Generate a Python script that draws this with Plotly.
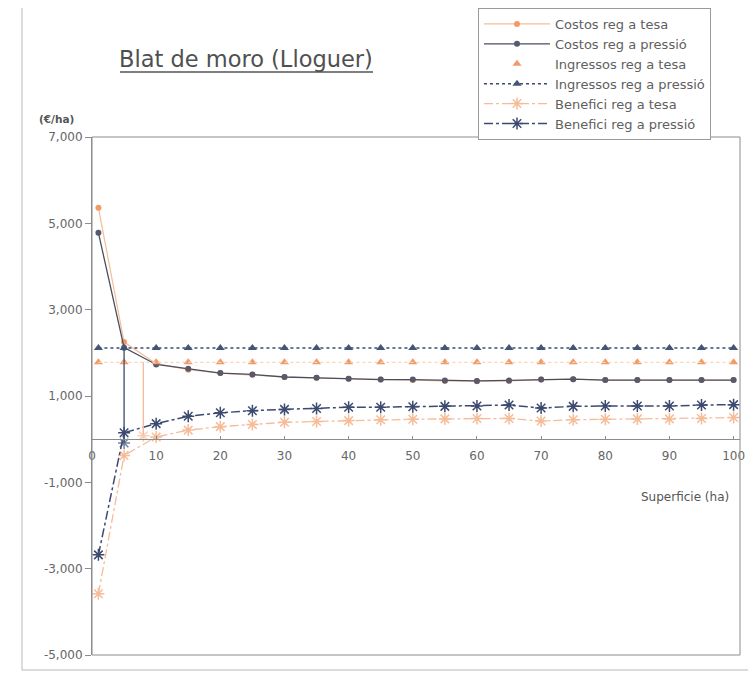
import plotly.graph_objects as go

# ---- data ----
x_vals = [1, 5, 10, 15, 20, 25, 30, 35, 40, 45, 50, 55, 60, 65, 70, 75, 80, 85, 90, 95, 100]
costos_tesa = [5360, 2250, 1750, 1610, 1530, 1490, 1440, 1420, 1400, 1380, 1370, 1350, 1340, 1350, 1380, 1390, 1370, 1370, 1370, 1370, 1370]
costos_pressio = [4780, 2120, 1730, 1630, 1530, 1500, 1440, 1420, 1400, 1380, 1380, 1360, 1350, 1360, 1380, 1390, 1370, 1370, 1370, 1370, 1370]
ingressos_tesa = [1780, 1780, 1780, 1780, 1780, 1780, 1780, 1780, 1780, 1780, 1780, 1780, 1780, 1780, 1780, 1780, 1780, 1780, 1780, 1780, 1780]
ingressos_pressio = [2110, 2110, 2110, 2110, 2110, 2110, 2110, 2110, 2110, 2110, 2110, 2110, 2110, 2110, 2110, 2110, 2110, 2110, 2110, 2110, 2110]
benefici_tesa = [-3580, -380, 50, 210, 290, 340, 390, 410, 430, 450, 460, 470, 480, 480, 420, 450, 460, 470, 470, 480, 500]
benefici_pressio = [-2680, 150, 360, 530, 610, 660, 690, 710, 740, 740, 750, 760, 770, 790, 720, 760, 770, 770, 770, 790, 800]

# break-even drop lines (x, top value, bottom value)
equilibri_pressio = {"x": [5, 5], "y": [2110, -90]}
equilibri_tesa = {"x": [8, 8], "y": [1780, 80]}

x_ticks = [0, 10, 20, 30, 40, 50, 60, 70, 80, 90, 100]
y_ticks = [7000, 5000, 3000, 1000, -1000, -3000, -5000]
y_ticklabels = ["7,000", "5,000", "3,000", "1,000", "-1,000", "-3,000", "-5,000"]

ORANGE = "#F29A68"
ORANGE_L = "#F6BC98"
NAVY = "#3C4A70"
DARK = "#4A4F60"
FONT = "DejaVu Sans, Verdana, sans-serif"

fig = go.Figure()

fig.add_trace(go.Scatter(x=x_vals, y=costos_tesa, name="Costos reg a tesa", mode="lines+markers",
                         line=dict(color=ORANGE_L, width=1.2),
                         marker=dict(symbol="circle", size=6, color=ORANGE)))
fig.add_trace(go.Scatter(x=x_vals, y=costos_pressio, name="Costos reg a pressió", mode="lines+markers",
                         line=dict(color=DARK, width=1.3),
                         marker=dict(symbol="circle", size=6, color="#555A6E")))
fig.add_trace(go.Scatter(x=x_vals, y=ingressos_tesa, name="Ingressos reg a tesa", mode="markers",
                         marker=dict(symbol="triangle-up", size=8, color=ORANGE)))
fig.add_trace(go.Scatter(x=x_vals, y=ingressos_tesa, showlegend=False, mode="lines", hoverinfo="skip",
                         line=dict(color="#F9D3BA", width=1.2, dash="dot")))
fig.add_trace(go.Scatter(x=x_vals, y=ingressos_pressio, name="Ingressos reg a pressió", mode="lines+markers",
                         line=dict(color=NAVY, width=1.5, dash="dot"),
                         marker=dict(symbol="triangle-up", size=8, color="#44557A")))
fig.add_trace(go.Scatter(x=x_vals, y=benefici_tesa, name="Benefici reg a tesa", mode="lines+markers",
                         line=dict(color=ORANGE_L, width=1.3, dash="dashdot"),
                         marker=dict(symbol="asterisk-open", size=10, line=dict(color=ORANGE, width=1.5))))
fig.add_trace(go.Scatter(x=x_vals, y=benefici_pressio, name="Benefici reg a pressió", mode="lines+markers",
                         line=dict(color=NAVY, width=1.5, dash="dashdot"),
                         marker=dict(symbol="asterisk-open", size=10, line=dict(color="#3D5A8C", width=1.5))))

fig.add_trace(go.Scatter(x=equilibri_pressio["x"], y=equilibri_pressio["y"], showlegend=False, hoverinfo="skip",
                         mode="lines+markers", line=dict(color=NAVY, width=1.3),
                         marker=dict(symbol="asterisk-open", size=[0, 10], line=dict(color="#3D5A8C", width=1.5))))
fig.add_trace(go.Scatter(x=equilibri_tesa["x"], y=equilibri_tesa["y"], showlegend=False, hoverinfo="skip",
                         mode="lines+markers", line=dict(color=ORANGE_L, width=1.3),
                         marker=dict(symbol="asterisk-open", size=[0, 10], line=dict(color=ORANGE, width=1.5))))

# geometry (screen pixels; page body adds an 8px offset)
OFF = 8
FW, FH = 748, 667
L, R, T, B = 92 - OFF, 740 - OFF, 137 - OFF, 655 - OFF
W, H = R - L, B - T
def px(v):
    return (v - OFF - L) / W
def py(v):
    return (B - (v - OFF)) / H

fig.update_layout(
    width=FW, height=FH,
    margin=dict(l=L, r=FW - R, t=T, b=FH - B, autoexpand=False),
    paper_bgcolor="white", plot_bgcolor="white",
    font=dict(family=FONT, size=11, color="#555555"),
    showlegend=True,
    legend=dict(x=px(478), y=py(8), xanchor="left", yanchor="top",
                bordercolor="#9A9A9A", borderwidth=1, bgcolor="white",
                font=dict(family=FONT, size=13, color="#606060"),
                tracegroupgap=0, itemwidth=66),
    xaxis=dict(range=[0, 101], tickvals=x_ticks, ticktext=[str(v) for v in x_ticks],
               anchor="free", position=5000 / 12000, showline=True, linecolor="#8C8C8C", linewidth=1,
               ticks="inside", ticklen=3, tickcolor="#8C8C8C", showgrid=False, zeroline=False,
               ticklabelstandoff=5,
               automargin=False, tickfont=dict(family=FONT, size=12, color="#666666")),
    yaxis=dict(range=[-5000, 7000], tickvals=y_ticks, ticktext=y_ticklabels,
               showline=True, linecolor="#8C8C8C", linewidth=1, ticks="outside", ticklen=6,
               tickcolor="#8C8C8C", showgrid=False, zeroline=False, automargin=False,
               tickfont=dict(family=FONT, size=12, color="#666666")),
)

# plot-area border
fig.add_shape(type="rect", xref="x domain", yref="y domain", x0=0, x1=1, y0=0, y1=1,
              line=dict(color="#8C8C8C", width=1))
# outer chart frame
fig.add_shape(type="rect", xref="paper", yref="paper", x0=px(22), x1=px(752), y0=py(670), y1=py(3),
              line=dict(color="#B8B8B8", width=1))

# title with underline
fig.add_annotation(text="Blat de moro (Lloguer)", xref="paper", yref="paper", x=px(246), y=py(59),
                   xanchor="center", yanchor="middle",
                   showarrow=False, font=dict(family=FONT, size=22.5, color="#505050"))
fig.add_shape(type="line", xref="paper", yref="paper", x0=px(120), x1=px(373), y0=py(72), y1=py(72),
              line=dict(color="#555555", width=1.6))

fig.add_annotation(text="<b>(€/ha)</b>", xref="paper", yref="paper", x=px(56), y=py(119),
                   xanchor="center", yanchor="middle",
                   showarrow=False, font=dict(family=FONT, size=10.5, color="#555555"))
fig.add_annotation(text="Superficie (ha)", xref="paper", yref="paper", x=px(685), y=py(497),
                   xanchor="center", yanchor="middle",
                   showarrow=False, font=dict(family=FONT, size=12, color="#555555"))

fig.write_html("out.html")
